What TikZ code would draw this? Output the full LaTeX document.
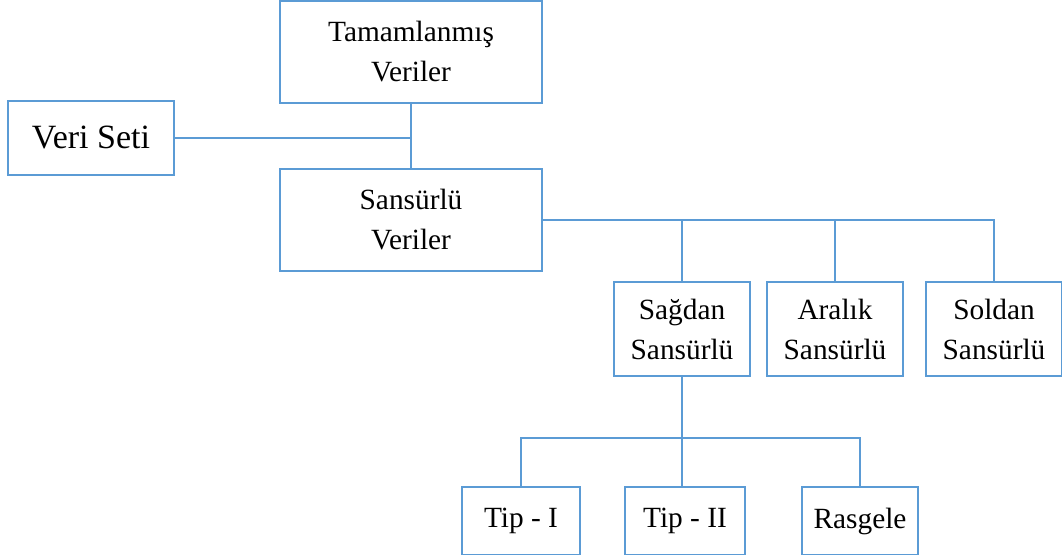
\documentclass[tikz,border=0pt]{standalone}
\usepackage{fontspec}
\setmainfont{Liberation Serif}
\usepackage{tikz}
\usetikzlibrary{positioning,calc}
\definecolor{boxblue}{RGB}{91,155,213}

\begin{document}
\begin{tikzpicture}[x=0.75pt,y=-0.75pt,
    box/.style={draw=boxblue,line width=1.5pt,fill=white,inner sep=0pt,
      align=center,font=\fontsize{22}{30}\selectfont},
    link/.style={draw=boxblue,line width=1.5pt}]
 \useasboundingbox (0,0) rectangle (1062,555);
 \node[box,minimum width=166*0.75pt,minimum height=74*0.75pt,
   font=\fontsize{25.5}{30}\selectfont] (VS) at (91,138) {Veri Seti};
 \node[box,minimum width=262*0.75pt,minimum height=102*0.75pt] (TV) at (411,52)
  {Tamamlanmış\\Veriler};
 \node[box,minimum width=262*0.75pt,minimum height=102*0.75pt] (SV) at (411,220)
  {Sansürlü\\Veriler};
 \node[box,minimum width=136*0.75pt,minimum height=94*0.75pt] (SAG) at (682,329)
  {Sağdan\\Sansürlü};
 \node[box,minimum width=136*0.75pt,minimum height=94*0.75pt] (ARA) at (835,329)
  {Aralık\\Sansürlü};
 \node[box,minimum width=136*0.75pt,minimum height=94*0.75pt] (SOL) at (994,329)
  {Soldan\\Sansürlü};
 \node[box,minimum width=118*0.75pt,minimum height=68*0.75pt] (T1) at (521,521)
  {Tip - I};
 \node[box,minimum width=120*0.75pt,minimum height=68*0.75pt] (T2) at (685,521)
  {Tip - II};
 \node[box,minimum width=116*0.75pt,minimum height=68*0.75pt] (RS) at (860,521)
  {Rasgele};
 \coordinate (split) at ($(SAG.south)+(0,61)$);
 \path[link] (TV) -- (SV) (VS) -- (VS -| TV);
 \path[link] (SV.east) -| (SOL.north)
   (SAG.north) -- (SAG.north |- SV.east) (ARA.north) -- (ARA.north |- SV.east);
 \path[link] (SAG.south) -- (SAG.south |- T2.north)
   (T1.north) |- (split) -| (RS.north);
\end{tikzpicture}
\end{document}
